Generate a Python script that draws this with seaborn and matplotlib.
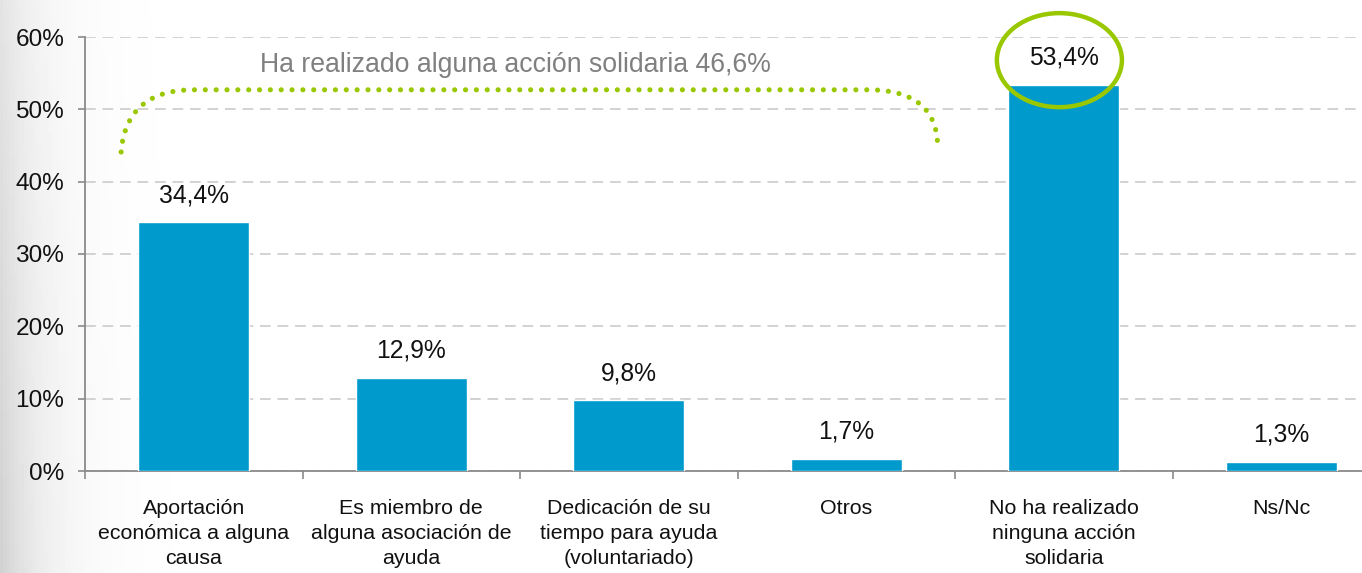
import numpy as np
import pandas as pd
import matplotlib
matplotlib.use("Agg")
import matplotlib.pyplot as plt
from matplotlib.patches import Ellipse
import seaborn as sns

# ---- data ----
categories = [
    "Aportación\neconómica a alguna\ncausa",
    "Es miembro de\nalguna asociación de\nayuda",
    "Dedicación de su\ntiempo para ayuda\n(voluntariado)",
    "Otros",
    "No ha realizado\nninguna acción\nsolidaria",
    "Ns/Nc",
]
values = [34.4, 12.9, 9.8, 1.7, 53.4, 1.3]
y_ticks = [0, 10, 20, 30, 40, 50, 60]
bracket_text = "Ha realizado alguna acción solidaria 46,6%"

BAR = "#009ACD"
GREEN = "#99C800"
AXIS = "#8a8a8a"

sns.set_theme(style="white")
plt.rcParams["font.family"] = ["Liberation Sans", "DejaVu Sans"]

W, H = 1362, 573
fig = plt.figure(figsize=(W / 100, H / 100), dpi=100)

# background gradient on the left edge
bg = fig.add_axes([0, 0, 1, 1], zorder=-10)
xs = np.linspace(0, W, 400)
ys = np.linspace(0, 1, 100)
X, Y = np.meshgrid(xs, ys)
shade = 1 - 0.18 * np.exp(-X / 45.0) * (0.6 + 0.4 * Y)
bg.imshow(shade, cmap="gray", vmin=0, vmax=1, aspect="auto",
          extent=[0, 1, 0, 1], origin="upper")
bg.axis("off")

ax = fig.add_axes([85 / W, 102 / H, 1305 / W, 434 / H])
ax.patch.set_alpha(0)

df = pd.DataFrame({"cat": categories, "val": values})
sns.barplot(data=df, x="cat", y="val", color=BAR, width=0.51,
            saturation=1, ax=ax, zorder=3)

ax.set_xlim(-0.5, len(categories) - 0.5)
ax.set_ylim(0, 60)
ax.set_yticks(y_ticks)
ax.set_yticklabels([f"{t}%" for t in y_ticks], fontsize=17.6, color="#111111")
ax.set_xlabel("")
ax.set_ylabel("")

ax.yaxis.grid(True, linestyle=(0, (5.5, 3.5)), color="#d2d2d2", lw=1.4, zorder=0)
ax.set_axisbelow(True)

for s in ["top", "right"]:
    ax.spines[s].set_visible(False)
for s in ["left", "bottom"]:
    ax.spines[s].set_color(AXIS)
    ax.spines[s].set_linewidth(1.3)

ax.tick_params(axis="y", direction="out", length=5, width=1.2, color=AXIS,
               pad=10, left=True)
ax.tick_params(axis="x", which="major", length=0, pad=20,
               labelsize=15.4, labelcolor="#111111")
ax.set_xticks(np.arange(-0.5, len(categories), 1.0), minor=True)
ax.tick_params(axis="x", which="minor", direction="out", length=6,
               width=1.2, color=AXIS, bottom=True)
for lab in ax.get_xticklabels():
    lab.set_linespacing(1.42)
    lab.set_verticalalignment("top")

# value labels
for i, v in enumerate(values):
    ax.annotate(f"{v:.1f}".replace(".", ",") + "%", (i, v),
                xytext=(0, 19.5), textcoords="offset points",
                ha="center", va="center", fontsize=17.7, color="#111111",
                annotation_clip=False)

# dotted bracket
def qbez(p0, p1, p2, n=60):
    t = np.linspace(0, 1, n)[:, None]
    p0, p1, p2 = map(np.array, (p0, p1, p2))
    return (1 - t) ** 2 * p0 + 2 * (1 - t) * t * p1 + t ** 2 * p2

left = qbez((-0.334, 44.1), (-0.31, 52.7), (0.0, 52.7))
right = qbez((3.1, 52.7), (3.41, 52.7), (3.42, 45.2))
path = np.vstack([left, right])
ax.plot(path[:, 0], path[:, 1], color=GREEN, lw=3.7,
        linestyle=(0, (0.01, 2.1)), dash_capstyle="round", zorder=4,
        clip_on=False)

ax.text(1.48, 56.1, bracket_text, ha="center", va="center",
        fontsize=19.2, color="#808080")

# highlight ellipse
ax.add_patch(Ellipse((3.98, 56.8), width=0.575, height=13.0, fill=False,
                     ec=GREEN, lw=3.2, clip_on=False, zorder=5))

fig.savefig("out.png", dpi=100)
